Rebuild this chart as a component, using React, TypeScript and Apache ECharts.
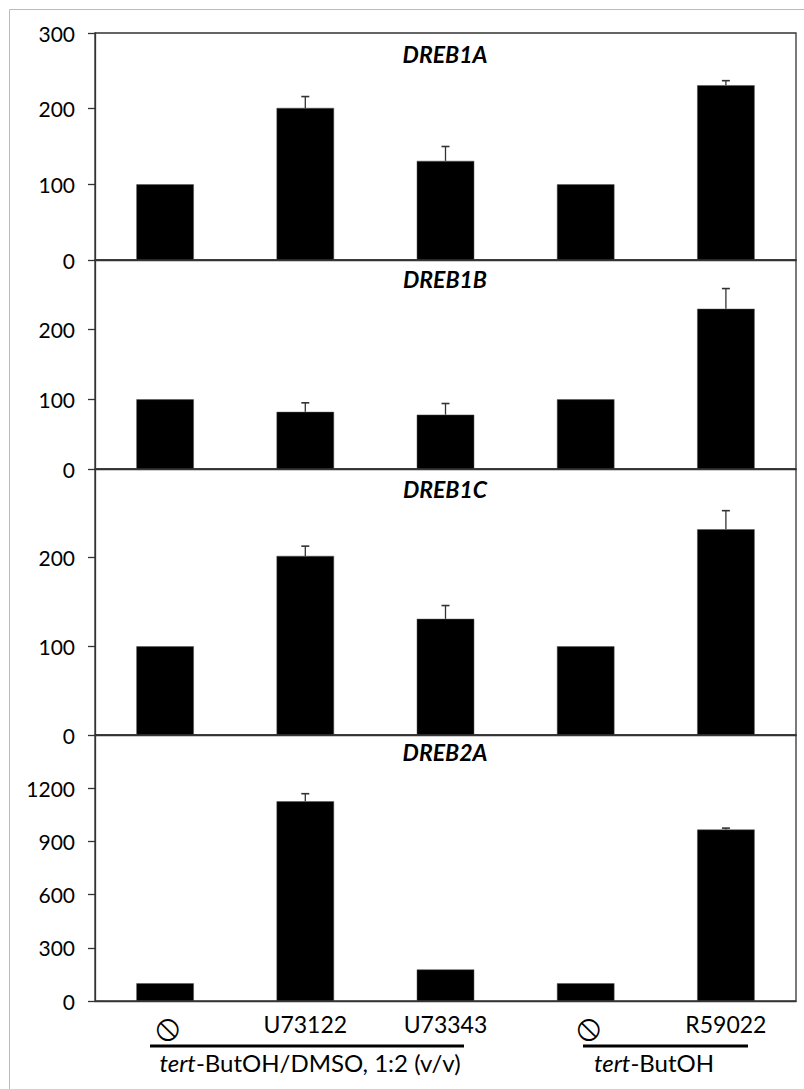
import React, { useEffect, useRef } from "react";
import * as echarts from "echarts";

const categories = ["⦸", "U73122", "U73343", "⦸", "R59022"];
const panelTitles = ["DREB1A", "DREB1B", "DREB1C", "DREB2A"];
const dreb1aValues = [100, 201, 131, 100, 231];
const dreb1aErrors = [0, 15, 19, 0, 6];
const dreb1bValues = [100, 82, 78, 100, 230];
const dreb1bErrors = [0, 13, 16, 0, 29];
const dreb1cValues = [100, 202, 131, 100, 232];
const dreb1cErrors = [0, 11, 15, 0, 21];
const dreb2aValues = [100, 1126, 178, 100, 967];
const dreb2aErrors = [0, 43, 0, 0, 8];
const yMax = [300, 300, 300, 1500];
const yInterval = [100, 100, 100, 300];
const groupLabels = ["tert-ButOH/DMSO, 1:2 (v/v)", "tert-ButOH"];

const panelValues = [dreb1aValues, dreb1bValues, dreb1cValues, dreb2aValues];
const panelErrors = [dreb1aErrors, dreb1bErrors, dreb1cErrors, dreb2aErrors];

// layout (pixels)
const gridTops = [33, 260, 469, 735];
const gridHeights = [227, 209, 266, 266];
const titleY = [54, 279, 489, 752];
const FONT = "Lato, 'DejaVu Sans', sans-serif";
const AX = "#333";

export default function App() {
  const ref = useRef<HTMLDivElement>(null);
  useEffect(() => {
    if (!ref.current) return;
    const chart = echarts.init(ref.current, undefined, { renderer: "svg" });
    const grids = gridTops.map((t, i) => ({
      left: 95,
      right: 8,
      top: t,
      height: gridHeights[i],
      show: true,
      borderColor: AX,
      borderWidth: 1.3,
      backgroundColor: "transparent",
    }));
    const xAxes = gridTops.map((_, i) => ({
      type: "category",
      gridIndex: i,
      data: categories,
      axisLine: { show: true, lineStyle: { color: AX, width: 1.3 } },
      axisTick: { show: false },
      axisLabel: {
        show: i === 3,
        margin: 11,
        fontFamily: FONT,
        fontSize: 23,
        color: "#000",
        formatter: (v: string) => (v === "⦸" ? "{s|⦸}" : v),
        rich: {
          s: {
            fontFamily: "'DejaVu Sans'",
            fontSize: 36,
            lineHeight: 28,
            color: "#000",
            padding: [0, 0, 0, 5],
          },
        },
      },
      splitLine: { show: false },
    }));
    const yAxes = gridTops.map((_, i) => ({
      type: "value",
      gridIndex: i,
      min: 0,
      max: yMax[i],
      interval: yInterval[i],
      axisLine: { show: true, lineStyle: { color: AX, width: 1.3 } },
      axisTick: { show: true, length: 7, lineStyle: { color: AX, width: 1.3 } },
      axisLabel: {
        showMaxLabel: i === 0,
        margin: 20,
        fontFamily: FONT,
        fontSize: 21,
        color: "#000",
        formatter: (v: number) => String(v),
      },
      splitLine: { show: false },
    }));
    const series: any[] = [];
    panelValues.forEach((vals, i) => {
      series.push({
        type: "bar",
        xAxisIndex: i,
        yAxisIndex: i,
        data: vals,
        barWidth: "41%",
        itemStyle: { color: "#000", borderColor: "#555", borderWidth: 0.5 },
      });
      series.push({
        type: "custom",
        xAxisIndex: i,
        yAxisIndex: i,
        z: 5,
        data: vals.map((v, k) => [k, v, panelErrors[i][k]]),
        renderItem: (params: any, api: any) => {
          const x = api.value(0);
          const v = api.value(1);
          const e = api.value(2);
          if (!e) return null;
          const base = api.coord([x, v]);
          const top = api.coord([x, v + e]);
          return {
            type: "group",
            children: [
              {
                type: "line",
                shape: { x1: base[0], y1: base[1], x2: top[0], y2: top[1] },
                style: { stroke: AX, lineWidth: 1.3 },
              },
              {
                type: "line",
                shape: { x1: top[0] - 4, y1: top[1], x2: top[0] + 4, y2: top[1] },
                style: { stroke: AX, lineWidth: 1.6 },
              },
            ],
          };
        },
      });
    });
    const groupText = (label: string, x: number) => ({
      type: "text",
      x,
      y: 1062,
      style: {
        text: "{i|tert}{n|" + label.slice(4) + "}",
        textAlign: "center",
        textVerticalAlign: "middle",
        rich: {
          i: { fontFamily: FONT, fontSize: 24, fontStyle: "italic", fill: "#000" },
          n: { fontFamily: FONT, fontSize: 24, fill: "#000" },
        },
      },
    });
    const graphic: any[] = [
      {
        type: "rect",
        shape: { x: 9.5, y: 9.5, width: 800, height: 1090 },
        style: { fill: "none", stroke: "#bbb", lineWidth: 1 },
        silent: true,
        z: -1,
      },
      ...panelTitles.map((t, i) => ({
        type: "text",
        x: 445,
        y: titleY[i],
        style: {
          text: t,
          fontFamily: FONT,
          fontSize: 23,
          fontWeight: "bold",
          fontStyle: "italic",
          fill: "#000",
          textAlign: "center",
          textVerticalAlign: "middle",
        },
      })),
      {
        type: "line",
        shape: { x1: 150, y1: 1046, x2: 464, y2: 1046 },
        style: { stroke: "#000", lineWidth: 3 },
      },
      {
        type: "line",
        shape: { x1: 583, y1: 1046, x2: 748, y2: 1046 },
        style: { stroke: "#000", lineWidth: 3 },
      },
      groupText(groupLabels[0], 310),
      groupText(groupLabels[1], 654),
    ];
    chart.setOption({
      animation: false,
      backgroundColor: "#fff",
      grid: grids,
      xAxis: xAxes,
      yAxis: yAxes,
      series,
      graphic,
    });
    return () => chart.dispose();
  }, []);
  return (
    <div
      ref={ref}
      style={{ position: "absolute", left: 0, top: 0, width: 804, height: 1089 }}
    />
  );
}
